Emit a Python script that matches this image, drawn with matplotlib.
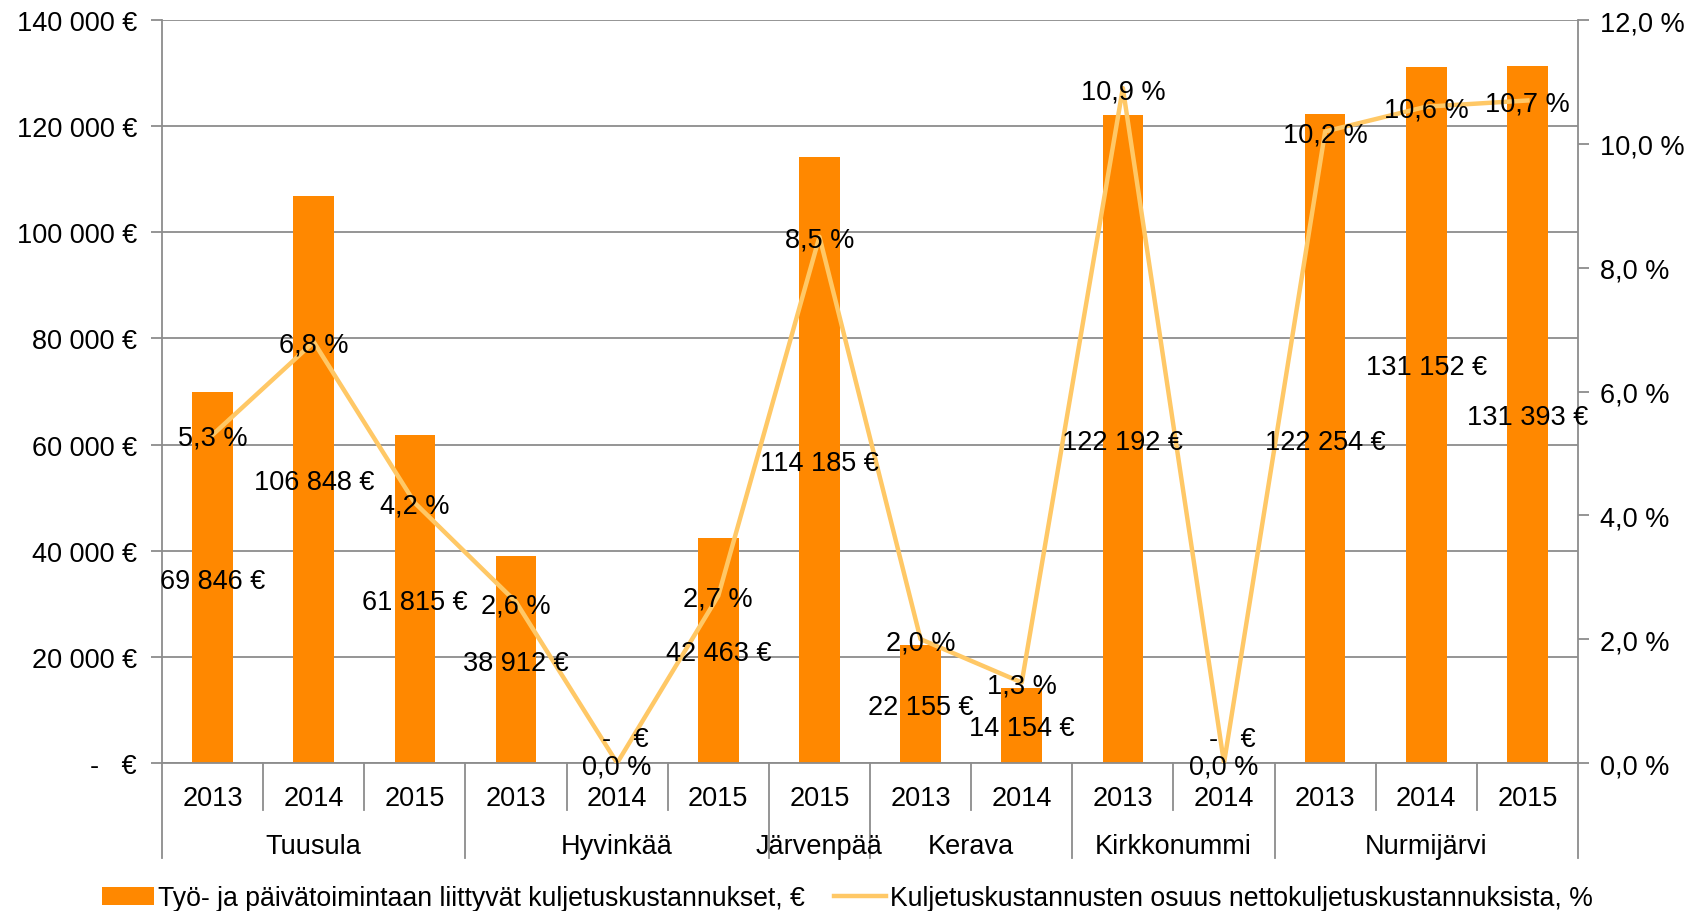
"""Kuljetuskustannukset kunnittain: pylväät (€) ja osuus-viiva (%) kahdella y-akselilla."""
import matplotlib
matplotlib.use("Agg")
import matplotlib.pyplot as plt
import matplotlib.transforms as mtransforms
from matplotlib.patches import Patch
from matplotlib.lines import Line2D

plt.rcParams["font.family"] = ["Liberation Sans", "DejaVu Sans"]

# kunnat ja vuodet (kategoria-akseli)
kunnat = ["Tuusula", "Hyvinkää", "Järvenpää", "Kerava", "Kirkkonummi", "Nurmijärvi"]
vuodet = [["2013", "2014", "2015"], ["2013", "2014", "2015"], ["2015"],
          ["2013", "2014"], ["2013", "2014"], ["2013", "2014", "2015"]]

kustannus = [69846, 106848, 61815,
             38912, 0, 42463,
             114185,
             22155, 14154,
             122192, 0,
             122254, 131152, 131393]
osuus = [5.3, 6.8, 4.2,
         2.6, 0.0, 2.7,
         8.5,
         2.0, 1.3,
         10.9, 0.0,
         10.2, 10.6, 10.7]

vasen_ticks = [0, 20000, 40000, 60000, 80000, 100000, 120000, 140000]
oikea_ticks = [0, 2, 4, 6, 8, 10, 12]

BAR = "#FF8800"
LINE = "#FFC866"
GRID = "#8C8C8C"
FS = 19.5
YMAX = 140000


def euro(v):
    if v == 0:
        return "-   €"
    return f"{v:,}".replace(",", " ") + " €"


def pros(v):
    return f"{v:.1f}".replace(".", ",") + " %"


fig = plt.figure(figsize=(16.95, 9.12), dpi=100)
ax = fig.add_axes([162 / 1695, 1 - 764 / 912, 1416 / 1695, 743 / 912])
x = list(range(len(kustannus)))

ax.bar(x, kustannus, width=0.4, color=BAR, zorder=2)
ax.set_xlim(-0.5, len(x) - 0.5)
ax.set_ylim(0, YMAX)
ax.set_yticks(vasen_ticks)
ax.set_yticklabels([euro(v) for v in vasen_ticks], fontsize=FS)
ax.yaxis.grid(True, color=GRID, lw=1.3, zorder=0)
ax.set_axisbelow(True)
ax.set_xticks([])
for s in ["top", "right"]:
    ax.spines[s].set_visible(False)
for s in ["left", "bottom"]:
    ax.spines[s].set_color(GRID)
    ax.spines[s].set_linewidth(1.3)
ax.tick_params(axis="y", color=GRID, width=1.3, length=8, pad=10)

ax2 = ax.twinx()
ax2.plot(x, osuus, color=LINE, lw=3.2, zorder=3)
ax2.set_ylim(0, 12)
ax2.set_yticks(oikea_ticks)
ax2.set_yticklabels([pros(v) for v in oikea_ticks], fontsize=FS)
for s in ["top", "left", "bottom"]:
    ax2.spines[s].set_visible(False)
ax2.spines["right"].set_color(GRID)
ax2.spines["right"].set_linewidth(1.3)
ax2.tick_params(axis="y", color=GRID, width=1.3, length=8, pad=8)

# arvotunnisteet pylvään keskelle; nollille "-  €" hieman akselin yläpuolelle
siirto = {12: (0, 51)}
for i, v in enumerate(kustannus):
    if v == 0:
        ax2.annotate(euro(v), (i, 0), xytext=(8, 27), textcoords="offset pixels",
                     ha="center", va="center_baseline", fontsize=FS, zorder=5)
    else:
        ax2.annotate(euro(v), (i, v / 2 / YMAX * 12), xytext=siirto.get(i, (0, 0)),
                     textcoords="offset pixels", ha="center", va="center_baseline",
                     fontsize=FS, zorder=5)
for i, v in enumerate(osuus):
    ax2.text(i, v, pros(v), ha="center", va="center_baseline", fontsize=FS, zorder=5)

# kaksitasoinen kategoria-akseli
tr = mtransforms.blended_transform_factory(ax.transData, ax.transAxes)
rajat = [-0.5]
pos = -0.5
for k, vv in zip(kunnat, vuodet):
    alku = pos
    for j, y in enumerate(vv):
        c = pos + 0.5
        ax.text(c, -0.047, y, transform=tr, ha="center", va="center", fontsize=FS)
        pos += 1
        if j < len(vv) - 1:
            ax.plot([pos, pos], [0, -0.063], transform=tr, color=GRID, lw=1.3,
                    clip_on=False)
    ax.text((alku + pos) / 2, -0.112, k, transform=tr, ha="center", va="center",
            fontsize=FS)
    rajat.append(pos)
for r in rajat:
    ax.plot([r, r], [0, -0.128], transform=tr, color=GRID, lw=1.3, clip_on=False)

handles = [Patch(facecolor=BAR, edgecolor="none"),
           Line2D([], [], color=LINE, lw=3.2)]
fig.legend(handles,
           ["Työ- ja päivätoimintaan liittyvät kuljetuskustannukset, €",
            "Kuljetuskustannusten osuus nettokuljetuskustannuksista, %"],
           loc="center", bbox_to_anchor=(0.5, 1 - 899 / 912), ncol=2,
           frameon=False, fontsize=19.15, handlelength=1.95, handleheight=0.65,
           handletextpad=0.15, columnspacing=1.1, borderpad=0)

fig.savefig("out.png", dpi=100)
